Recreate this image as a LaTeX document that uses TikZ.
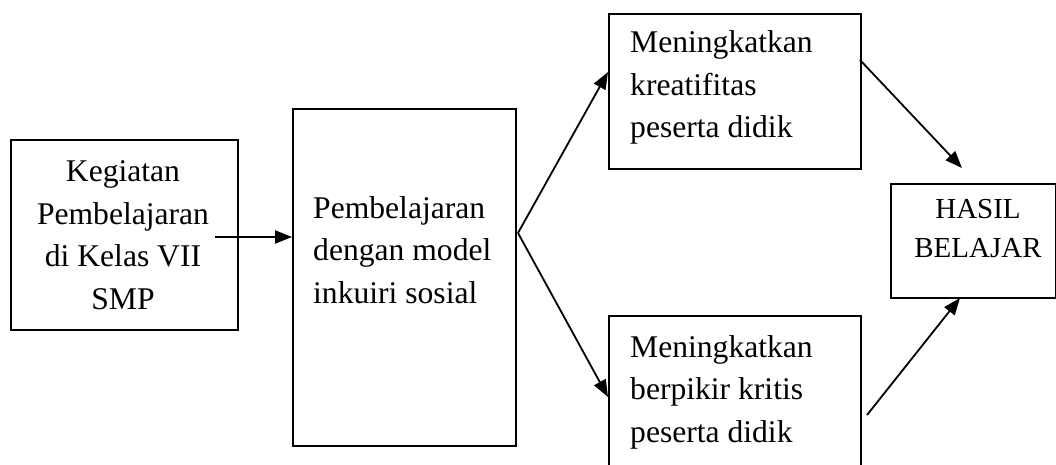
\documentclass[tikz,border=0pt]{standalone}
\usepackage{fontspec}
\setmainfont{Liberation Serif}
\usetikzlibrary{arrows.meta}
\tikzset{
  box/.style={draw, line width=1.8pt, inner sep=0pt, anchor=north west},
  txt/.style={inner sep=0pt, font=\fontsize{31.6}{42.5}\selectfont},
  txtsmall/.style={inner sep=0pt, font=\fontsize{29}{39}\selectfont},
  arr/.style={line width=1.8pt, -{Triangle[length=17pt,width=13pt]}}
}
\begin{document}
\begin{tikzpicture}[x=1pt,y=-1pt]
\useasboundingbox (0,0) rectangle (1056,465);
\clip (0,0) rectangle (1056,465);
% boxes
\node[box, minimum width=227pt, minimum height=190pt] (b1) at (10,139) {};
\node[box, minimum width=223pt, minimum height=337pt] (b2) at (292,108) {};
\node[box, minimum width=252pt, minimum height=155pt] (b3) at (608,13) {};
\node[box, minimum width=252pt, minimum height=170pt] (b4) at (608,315) {};
\node[box, minimum width=165pt, minimum height=114pt] (b5) at (890,183) {};
% texts (anchored at the baseline of the last line)
\node[txt, align=center, anchor=base] (t1) at (123,309) {Kegiatan\\Pembelajaran\\di Kelas VII\\SMP};
\node[txt, align=left, anchor=base west] (t2) at (313,303) {Pembelajaran\\dengan model\\inkuiri sosial};
\node[txt, align=left, anchor=base west] (t3) at (630,138) {Meningkatkan\\kreatifitas\\peserta didik};
\node[txt, align=left, anchor=base west] (t4) at (630,442) {Meningkatkan\\berpikir kritis\\peserta didik};
\node[txtsmall, align=center, anchor=base] (t5) at (978,257) {HASIL\\BELAJAR};
% connector points
\coordinate (s1) at (215,237);
\coordinate (e1) at (292,237);
\coordinate (fork) at (518,233);
\coordinate (e3) at (608,72);
\coordinate (e4) at (608,397);
\coordinate (s5) at (860,60);
\coordinate (e5) at (962,168);
\coordinate (s6) at (867,415);
\coordinate (e6) at (960,298);
% connectors
\draw[arr] (s1) -- (e1);
\draw[arr] (fork) -- (e3);
\draw[arr] (fork) -- (e4);
\draw[arr] (s5) -- (e5);
\draw[arr] (s6) -- (e6);
\end{tikzpicture}
\end{document}
